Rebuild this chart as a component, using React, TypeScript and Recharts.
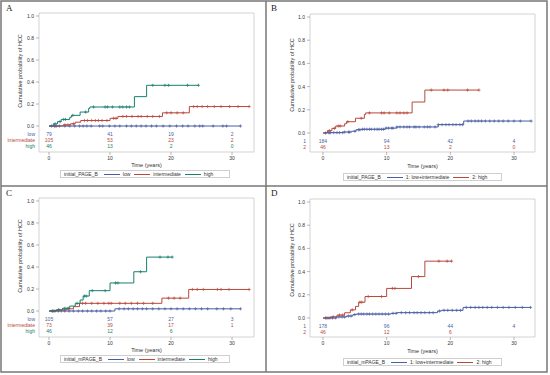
import React from "react";
import { ComposedChart, Line, Scatter, XAxis, YAxis, ReferenceArea, Legend } from "recharts";

// Four Kaplan-Meier style cumulative-incidence panels (SAS look), 2x2 grid.
const BLUE = "#4a5fa3";
const RED = "#b8483a";
const TEAL = "#17806f";
const FONT = "'Liberation Sans', Arial, sans-serif";
const INK = "#333";

const timeTicks = [0, 10, 20, 30];
const probTicks = [0, 0.2, 0.4, 0.6, 0.8, 1.0];

type Step = [number, number];

// ---- Panel A: initial_PAGE_B, low / intermediate / high
const aLowSteps: Step[] = [[0, 0]];
const aLowCensor = [0.4, 0.9, 1.2, 1.7, 2.6, 3.4, 4.2, 5.0, 5.6, 6.2, 6.9, 8.3, 8.8, 9.9, 10.8, 11.6, 12.7, 13.5, 14.3, 15.1, 15.9, 16.8, 17.6, 18.7, 19.8, 20.9, 21.9, 22.8, 23.9, 24.7, 25.2, 26.9, 28.5, 29.1, 31.4];
const aIntSteps: Step[] = [[0, 0], [2.3, 0.01], [3.5, 0.02], [4.3, 0.035], [5.2, 0.05], [10, 0.07], [11.3, 0.087], [18.6, 0.12], [23, 0.177]];
const aIntCensor = [1.0, 2.6, 3.1, 4.0, 5.8, 6.3, 7.0, 7.6, 8.1, 8.7, 9.5, 10.6, 11.0, 12.1, 12.7, 13.6, 14.6, 15.1, 16.1, 17.0, 18.1, 19.3, 20.0, 21.0, 22.0, 23.7, 24.3, 25.1, 26.0, 27.1, 28.2, 29.6, 31.0, 32.8];
const aHighSteps: Step[] = [[0, 0], [0.7, 0.02], [1.4, 0.04], [2.0, 0.06], [3.4, 0.08], [3.7, 0.097], [5.1, 0.127], [6.5, 0.16], [6.7, 0.173], [14.0, 0.267], [16.0, 0.37]];
const aHighCensor = [1.0, 1.8, 2.4, 2.7, 3.9, 6.0, 7.3, 9.2, 9.6, 10.4, 11.6, 12.1, 12.7, 13.2, 17.0, 19.0, 19.6, 22.7, 24.5];
const aRiskLow = [79, 41, 19, 2];
const aRiskInt = [105, 53, 23, 2];
const aRiskHigh = [46, 13, 2, 0];

// ---- Panel B: initial_PAGE_B, 1: low+intermediate / 2: high
const bLowIntSteps: Step[] = [[0, 0], [0.6, 0.003], [3.2, 0.008], [4.5, 0.015], [5.2, 0.028], [6.0, 0.032], [9.8, 0.042], [11.6, 0.052], [18.1, 0.072], [22.1, 0.103]];
const bLowIntCensor = [0.4, 0.9, 1.0, 1.2, 1.7, 2.2, 2.6, 3.1, 3.4, 4.0, 4.2, 5.0, 5.6, 5.8, 6.2, 6.5, 6.9, 7.3, 7.6, 8.1, 8.5, 8.8, 9.2, 9.5, 9.9, 10.3, 10.8, 11.0, 11.6, 12.1, 12.7, 13.2, 13.6, 14.3, 14.6, 15.1, 15.9, 16.4, 16.8, 17.6, 18.1, 18.7, 19.3, 19.8, 20.4, 20.9, 21.5, 21.9, 22.8, 23.3, 23.9, 24.4, 24.9, 25.5, 26.2, 26.9, 27.6, 28.3, 29.1, 30.0, 31.0, 32.7];
const bRisk1 = [184, 94, 42, 4];
const bRisk2 = [46, 13, 2, 0];

// ---- Panel C: initial_mPAGE_B, low / intermediate / high
const cLowSteps: Step[] = [[0, 0], [10.8, 0.02]];
const cLowCensor = [0.5, 1.0, 1.5, 2.0, 2.6, 3.3, 4.0, 4.8, 5.5, 6.3, 7.0, 7.8, 8.5, 9.3, 10.0, 11.5, 12.3, 13.0, 13.8, 14.5, 15.3, 16.0, 17.0, 18.0, 19.0, 20.0, 21.0, 22.0, 23.0, 24.0, 25.0, 26.0, 27.5, 28.6, 29.8, 31.4];
const cIntSteps: Step[] = [[0, 0], [1.2, 0.01], [2.9, 0.02], [4.0, 0.04], [5.0, 0.07], [18.5, 0.117], [22.9, 0.196]];
const cIntCensor = [0.8, 1.6, 2.5, 3.2, 5.5, 6.0, 7.0, 8.0, 9.0, 9.8, 10.2, 11.6, 12.5, 13.5, 14.5, 15.5, 17.0, 19.6, 20.5, 21.5, 23.5, 24.3, 25.3, 27.6, 28.2, 29.5, 32.8];
const cHighSteps: Step[] = [[0, 0], [1.2, 0.01], [2.2, 0.025], [3.4, 0.045], [4.3, 0.07], [5.1, 0.1], [5.6, 0.136], [6.6, 0.185], [10.0, 0.255], [13.9, 0.357], [16.0, 0.49]];
const cHighCensor = [0.6, 1.6, 2.6, 3.1, 4.6, 5.8, 6.1, 7.1, 9.2, 10.9, 11.3, 15.0, 18.2, 19.5, 20.2];
const cRiskLow = [105, 57, 27, 3];
const cRiskInt = [73, 39, 17, 1];
const cRiskHigh = [46, 12, 6];

// ---- Panel D: initial_mPAGE_B, 1: low+intermediate / 2: high
const dLowIntSteps: Step[] = [[0, 0], [2.1, 0.009], [3.7, 0.017], [4.7, 0.029], [5.2, 0.034], [10.7, 0.04], [11.6, 0.046], [18.0, 0.06], [18.6, 0.066], [22.0, 0.091]];
const dLowIntCensor = [0.4, 0.8, 1.1, 1.5, 2.0, 2.5, 3.0, 3.4, 4.0, 4.4, 5.0, 5.6, 6.0, 6.4, 6.9, 7.3, 7.8, 8.3, 8.8, 9.3, 9.8, 10.3, 11.0, 11.5, 12.3, 13.0, 13.6, 14.3, 14.8, 15.4, 16.0, 16.7, 17.3, 18.3, 19.0, 19.6, 20.3, 21.0, 21.6, 22.5, 23.2, 23.9, 24.5, 25.1, 25.8, 26.5, 27.4, 28.3, 29.2, 30.2, 31.3, 32.6];
const dRisk1 = [178, 96, 44, 4];
const dRisk2 = [46, 12, 6];

type Pt = { t: number; y: number; c: boolean };

// merge event steps with censor times into one step series
function buildCurve(steps: Step[], censor: number[]): Pt[] {
  const pts: Pt[] = steps.map(([t, y]) => ({ t, y, c: false }));
  for (const ct of censor) {
    let y = 0;
    for (const [t, v] of steps) if (t <= ct) y = v;
    pts.push({ t: ct, y, c: true });
  }
  return pts.sort((a, b) => a.t - b.t || (a.c ? 1 : 0) - (b.c ? 1 : 0));
}

type Series = { label: string; color: string; steps: Step[]; censor: number[]; risk: number[]; rowY: number };

type PanelCfg = {
  letter: string;
  left: number;
  top: number;
  width: number;
  height: number;
  plotLeft: number;
  plotTop: number;
  plotW: number;
  plotH: number;
  xDomain: [number, number];
  yDomain: [number, number];
  series: Series[];
  legendTitle: string;
  legend: { left: number; top: number; width: number };
  yLabelX: number;
  xLabelOffset: number;
};

const geoAC = {
  width: 265, height: 185, plotLeft: 38, plotTop: 12, plotW: 215, plotH: 139,
  xDomain: [-1.64, 33.6] as [number, number], yDomain: [-0.236, 1.027] as [number, number],
  legend: { left: 59, top: 169, width: 170 }, yLabelX: 19, xLabelOffset: 19.5,
};
const geoBD = {
  width: 281, height: 185, plotLeft: 44, plotTop: 13, plotW: 225, plotH: 138,
  xDomain: [-2.04, 33.3] as [number, number], yDomain: [-0.164, 1.026] as [number, number],
  legend: { left: 77, top: 172, width: 159 }, yLabelX: 26, xLabelOffset: 18.5,
};
const rowsAC = [-0.073, -0.127, -0.182];
const rowsBD = [-0.069, -0.121];

const panels: PanelCfg[] = [
  {
    letter: "A", left: 1, top: 1, ...geoAC, legendTitle: "initial_PAGE_B",
    series: [
      { label: "low", color: BLUE, steps: aLowSteps, censor: aLowCensor, risk: aRiskLow, rowY: rowsAC[0] },
      { label: "intermediate", color: RED, steps: aIntSteps, censor: aIntCensor, risk: aRiskInt, rowY: rowsAC[1] },
      { label: "high", color: TEAL, steps: aHighSteps, censor: aHighCensor, risk: aRiskHigh, rowY: rowsAC[2] },
    ],
  },
  {
    letter: "B", left: 266, top: 1, ...geoBD, legendTitle: "initial_PAGE_B",
    series: [
      { label: "1: low+intermediate", color: BLUE, steps: bLowIntSteps, censor: bLowIntCensor, risk: bRisk1, rowY: rowsBD[0] },
      { label: "2: high", color: RED, steps: aHighSteps, censor: aHighCensor, risk: bRisk2, rowY: rowsBD[1] },
    ],
  },
  {
    letter: "C", left: 1, top: 186, ...geoAC, legendTitle: "initial_mPAGE_B",
    series: [
      { label: "low", color: BLUE, steps: cLowSteps, censor: cLowCensor, risk: cRiskLow, rowY: rowsAC[0] },
      { label: "intermediate", color: RED, steps: cIntSteps, censor: cIntCensor, risk: cRiskInt, rowY: rowsAC[1] },
      { label: "high", color: TEAL, steps: cHighSteps, censor: cHighCensor, risk: cRiskHigh, rowY: rowsAC[2] },
    ],
  },
  {
    letter: "D", left: 266, top: 186, ...geoBD, legendTitle: "initial_mPAGE_B",
    series: [
      { label: "1: low+intermediate", color: BLUE, steps: dLowIntSteps, censor: dLowIntCensor, risk: dRisk1, rowY: rowsBD[0] },
      { label: "2: high", color: RED, steps: cHighSteps, censor: cHighCensor, risk: dRisk2, rowY: rowsBD[1] },
    ],
  },
];

function rowLabel(s: Series) {
  // risk-table row label: "low" etc., or "1"/"2" for the grouped panels
  return s.label.includes(":") ? s.label.split(":")[0] : s.label;
}

function Panel({ cfg }: { cfg: PanelCfg }) {
  const [yMin, yMax] = cfg.yDomain;
  const rows = cfg.series.map((s) => ({ y: s.rowY, label: rowLabel(s), color: s.color }));
  const yTicks = [...probTicks, ...rows.map((r) => r.y)];

  const renderYTick = (p: any) => {
    const v = p.payload.value;
    const row = rows.find((r) => r.y === v);
    if (row) {
      return (
        <text x={p.x + 1} y={p.y} textAnchor="end" dominantBaseline="central" fontSize={5} fontFamily={FONT} fill={row.color}>
          {row.label}
        </text>
      );
    }
    return (
      <g>
        <line x1={p.x + 2} x2={p.x + 5} y1={p.y} y2={p.y} stroke="#888" strokeWidth={0.6} />
        <text x={p.x} y={p.y} textAnchor="end" dominantBaseline="central" fontSize={5} fontFamily={FONT} fill={INK}>
          {Number(v).toFixed(1)}
        </text>
      </g>
    );
  };

  const renderYLabel = (props: any) => {
    const vb = props.viewBox || { x: 0, y: 0, height: 0 };
    const cy = vb.y + (vb.height * (yMax - 0.5)) / (yMax - yMin);
    const cx = vb.x + cfg.yLabelX;
    return (
      <text x={cx} y={cy} transform={`rotate(-90 ${cx} ${cy})`} textAnchor="middle" dominantBaseline="central" fontSize={5.5} fontFamily={FONT} fill={INK}>
        Cumulative probability of HCC
      </text>
    );
  };

  const renderLegend = () => (
    <div
      style={{
        display: "flex", alignItems: "center", height: 8, boxSizing: "border-box",
        border: "1px solid #cfcfcf", fontFamily: FONT, fontSize: 5, color: INK,
        padding: "0 3px", whiteSpace: "nowrap", background: "#fff",
      }}
    >
      <span style={{ marginRight: 6 }}>{cfg.legendTitle}</span>
      {cfg.series.map((s) => (
        <span key={s.label} style={{ display: "flex", alignItems: "center", marginRight: 4 }}>
          <span style={{ display: "inline-block", width: 16, borderTop: `1px solid ${s.color}`, marginRight: 3 }} />
          <span>{s.label}</span>
        </span>
      ))}
    </div>
  );

  return (
    <div style={{ position: "absolute", left: cfg.left, top: cfg.top, width: cfg.width, height: cfg.height }}>
      <ComposedChart
        width={cfg.width}
        height={cfg.height}
        margin={{ top: cfg.plotTop, right: cfg.width - cfg.plotLeft - cfg.plotW, bottom: 0, left: 0 }}
      >
        <XAxis
          dataKey="t"
          type="number"
          domain={cfg.xDomain}
          allowDataOverflow
          ticks={timeTicks}
          height={cfg.height - cfg.plotTop - cfg.plotH}
          axisLine={false}
          tickSize={3}
          tickMargin={1}
          tickLine={{ stroke: "#888", strokeWidth: 0.6 }}
          tick={{ fontSize: 5, fill: INK, fontFamily: FONT }}
          label={{ value: "Time (years)", position: "insideBottom", offset: cfg.xLabelOffset, fontSize: 5.5, fill: INK, fontFamily: FONT }}
        />
        <YAxis
          dataKey="y"
          type="number"
          domain={cfg.yDomain}
          allowDataOverflow
          ticks={yTicks}
          interval={0}
          width={cfg.plotLeft}
          axisLine={false}
          tickLine={false}
          tickSize={3}
          tickMargin={2}
          tick={renderYTick}
          label={renderYLabel}
        />
        <ReferenceArea x1={cfg.xDomain[0]} x2={cfg.xDomain[1]} y1={yMin} y2={yMax} fill="none" stroke="#c8c8c8" strokeWidth={0.8} ifOverflow="visible" />
        {cfg.series.map((s) => (
          <Line
            key={`line-${s.label}`}
            data={buildCurve(s.steps, s.censor)}
            dataKey="y"
            type="stepAfter"
            stroke={s.color}
            strokeWidth={1}
            activeDot={false}
            legendType="none"
            isAnimationActive={false}
            dot={(p: any) =>
              p.payload.c ? (
                <path key={p.index} d={`M${p.cx - 1.6},${p.cy}h3.2M${p.cx},${p.cy - 1.6}v3.2`} stroke={s.color} strokeWidth={0.7} fill="none" />
              ) : (
                <g key={p.index} />
              )
            }
          />
        ))}
        {cfg.series.map((s) => (
          <Scatter
            key={`risk-${s.label}`}
            data={s.risk.map((n, i) => ({ t: timeTicks[i], y: s.rowY, n }))}
            isAnimationActive={false}
            legendType="none"
            shape={(p: any) => (
              <text x={p.cx} y={p.cy} textAnchor="middle" dominantBaseline="central" fontSize={5} fontFamily={FONT} fill={s.color}>
                {p.payload.n}
              </text>
            )}
          />
        ))}
        <Legend
          layout="horizontal"
          verticalAlign="middle"
          align="center"
          width={cfg.legend.width}
          wrapperStyle={{ left: cfg.legend.left, top: cfg.legend.top, width: cfg.legend.width }}
          content={renderLegend}
        />
      </ComposedChart>
    </div>
  );
}

export default function App() {
  return (
    <div style={{ position: "absolute", left: 0, top: 0, width: 550, height: 375, background: "#fff", overflow: "hidden" }}>
      {panels.map((p) => (
        <Panel key={p.letter} cfg={p} />
      ))}
      {panels.map((p) => (
        <div
          key={`lbl-${p.letter}`}
          style={{ position: "absolute", left: p.left + 5, top: p.top + 2, fontFamily: "'Liberation Serif', serif", fontSize: 9, color: "#222" }}
        >
          {p.letter}
        </div>
      ))}
      <svg width={550} height={375} style={{ position: "absolute", left: 0, top: 0, pointerEvents: "none" }}>
        <rect x={1} y={1} width={546} height={371} fill="none" stroke="#777" strokeWidth={1.5} />
        <line x1={266} x2={266} y1={1} y2={372} stroke="#777" strokeWidth={1.5} />
        <line x1={1} x2={547} y1={186} y2={186} stroke="#777" strokeWidth={1.5} />
      </svg>
    </div>
  );
}
